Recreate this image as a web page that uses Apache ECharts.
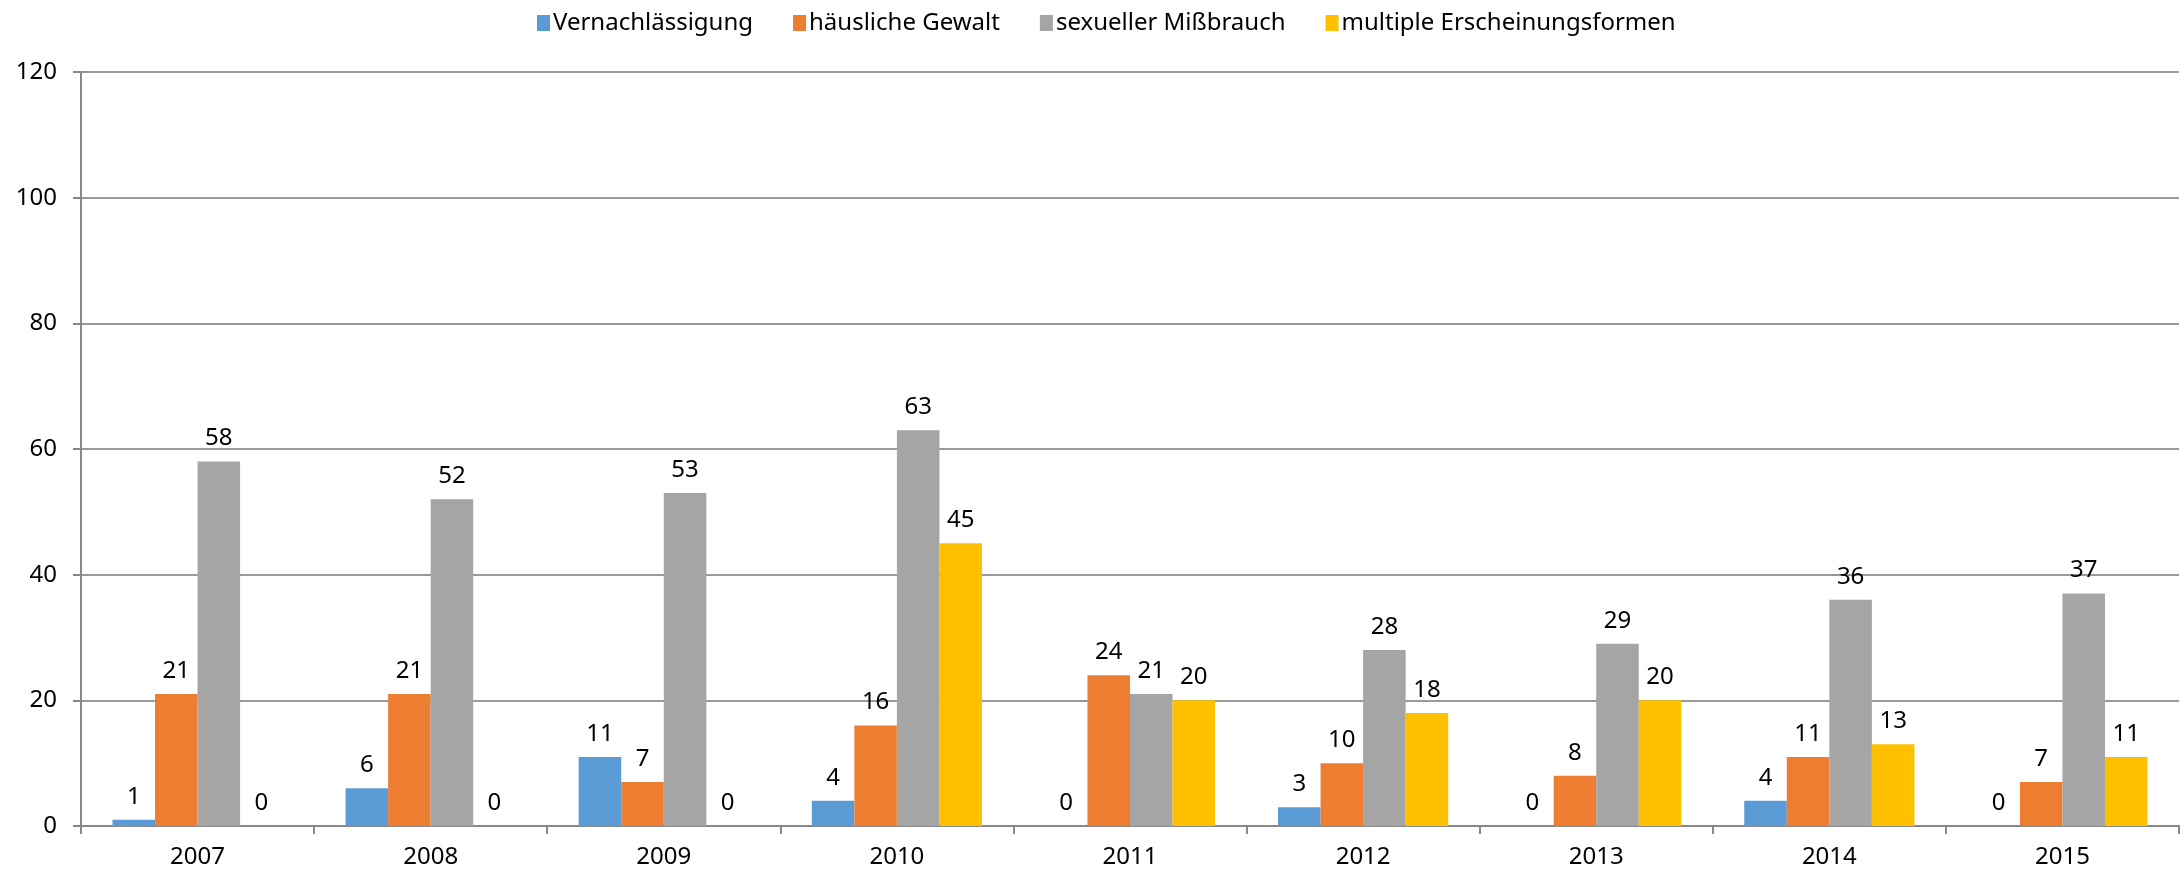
<!DOCTYPE html>
<html>
<head>
    <meta charset="utf-8"/>
    <title>Fälle nach Erscheinungsform</title>
    <script src="https://cdn.jsdelivr.net/npm/echarts@6/dist/echarts.min.js"></script>
    <style>
        html, body { margin: 0; padding: 0; background: #fff; }
        #myChart { width: 2183px; height: 875px; }
    </style>
</head>
<body>
    <div id="myChart"></div>
<script type="text/javascript">
    // Jahre (Kategorien)
    var years = ['2007', '2008', '2009', '2010', '2011', '2012', '2013', '2014', '2015'];
    // Werte je Erscheinungsform
    var vernachlaessigung = [1, 6, 11, 4, 0, 3, 0, 4, 0];
    var haeuslicheGewalt = [21, 21, 7, 16, 24, 10, 8, 11, 7];
    var sexuellerMissbrauch = [58, 52, 53, 63, 21, 28, 29, 36, 37];
    var multipleFormen = [0, 0, 0, 45, 20, 18, 20, 13, 11];
    var seriesNames = ['Vernachlässigung', 'häusliche Gewalt', 'sexueller Mißbrauch', 'multiple Erscheinungsformen'];
    var colors = ['#5B9BD5', '#ED7D31', '#A5A5A5', '#FFC000'];

    var font = '"Noto Sans", "DejaVu Sans", sans-serif';
    var myChart = echarts.init(document.getElementById('myChart'));

    var makeSeries = function (name, data, color) {
        return {
            name: name,
            type: 'bar',
            data: data,
            barGap: 0,
            barCategoryGap: '27%',
            itemStyle: { color: color },
            label: {
                show: true,
                position: 'top',
                distance: 11,
                color: '#000',
                fontFamily: font,
                fontSize: 24
            }
        };
    };

    var option = {
        animation: false,
        color: colors,
        legend: {
            top: 6,
            left: 532,
            itemWidth: 13,
            itemHeight: 16,
            itemGap: 40,
            icon: 'rect',
            textStyle: { fontFamily: font, fontSize: 24, color: '#000', padding: [0, 0, 0, -2] },
            data: seriesNames
        },
        grid: {
            left: 81,
            right: 4,
            top: 72,
            bottom: 49,
            containLabel: false
        },
        xAxis: {
            type: 'category',
            data: years,
            axisLine: { lineStyle: { color: '#888', width: 2 } },
            axisTick: { show: true, length: 8, lineStyle: { color: '#888', width: 2 } },
            axisLabel: { fontFamily: font, fontSize: 24, color: '#000', margin: 19 }
        },
        yAxis: {
            type: 'value',
            min: 0,
            max: 120,
            interval: 20,
            axisLine: { show: true, lineStyle: { color: '#888', width: 2 } },
            axisTick: { show: true, length: 8, lineStyle: { color: '#888', width: 2 } },
            splitLine: { lineStyle: { color: '#999', width: 2 } },
            axisLabel: { fontFamily: font, fontSize: 24, color: '#000', margin: 24 }
        },
        series: [
            makeSeries(seriesNames[0], vernachlaessigung, colors[0]),
            makeSeries(seriesNames[1], haeuslicheGewalt, colors[1]),
            makeSeries(seriesNames[2], sexuellerMissbrauch, colors[2]),
            makeSeries(seriesNames[3], multipleFormen, colors[3])
        ]
    };
    myChart.setOption(option);
</script>
</body>
</html>
